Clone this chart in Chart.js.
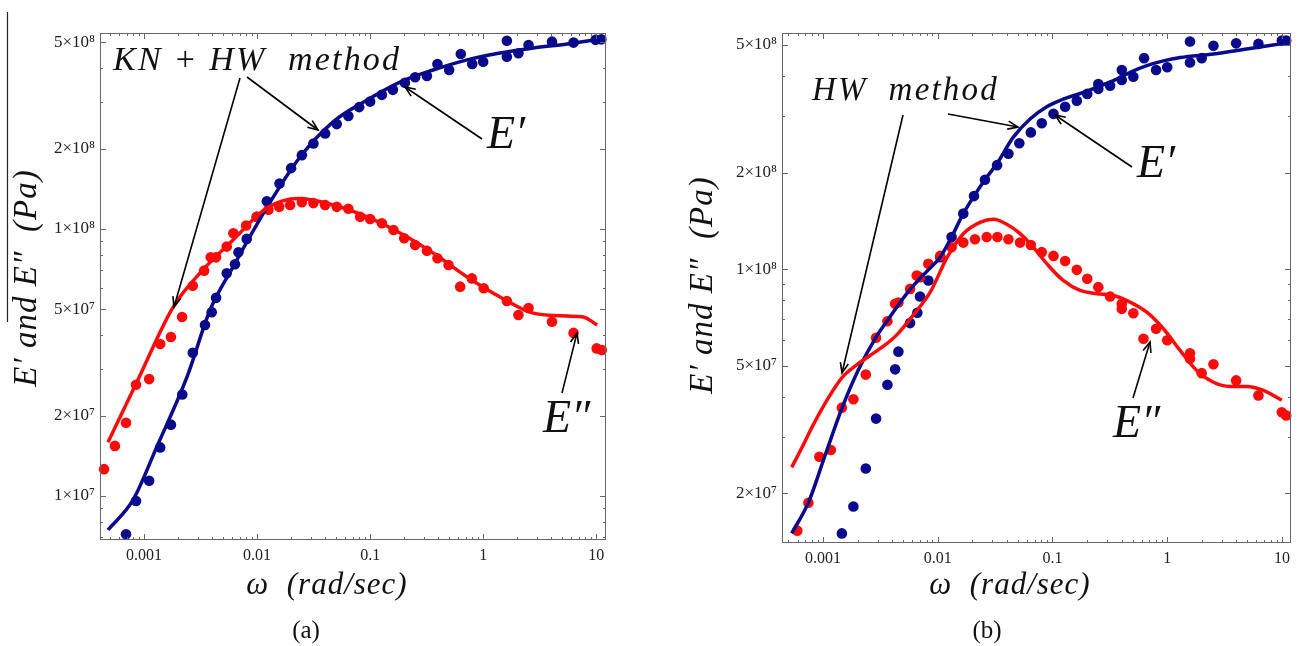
<!DOCTYPE html>
<html>
<head>
<meta charset="utf-8">
<title>E' and E'' vs frequency</title>
<script src="https://cdn.jsdelivr.net/npm/chart.js@4.4.1/dist/chart.umd.min.js"></script>
<style>
    body { margin: 0; background: #fff; }
    #wrap { position: relative; width: 1302px; height: 646px; overflow: hidden; }
    #chartA { position: absolute; left: 0; top: 0; }
    #chartB { position: absolute; left: 682px; top: 0; }
</style>
</head>
<body>
<div id="wrap">
    <canvas id="chartA" width="650" height="646"></canvas>
    <canvas id="chartB" width="620" height="646"></canvas>
</div>
<script>
// ---- tick labels ----
const xTickValues = [0.001, 0.01, 0.1, 1, 10];
const xTickLabels = ['0.001', '0.01', '0.1', '1', '10'];
const aYTickValues = [1e7, 2e7, 5e7, 1e8, 2e8, 5e8];
const aYTickLabels = ['1×10⁷', '2×10⁷', '5×10⁷', '1×10⁸', '2×10⁸', '5×10⁸'];
const bYTickValues = [2e7, 5e7, 1e8, 2e8, 5e8];
const bYTickLabels = ['2×10⁷', '5×10⁷', '1×10⁸', '2×10⁸', '5×10⁸'];

// ---- panel (a): KN + HW method ----
const aStorageW = [6.93e-4, 8.5e-4, 1.11e-3, 1.39e-3, 1.73e-3, 2.18e-3, 2.70e-3, 3.46e-3, 3.97e-3, 4.34e-3,
    5.39e-3, 6.38e-3, 6.84e-3, 8.1e-3, 9.94e-3, 1.22e-2, 1.58e-2, 2.0e-2, 2.49e-2, 3.15e-2,
    4.0e-2, 5.07e-2, 6.42e-2, 8.0e-2, 0.1, 0.127, 0.159, 0.203, 0.25, 0.318,
    0.394, 0.50, 0.634, 0.80, 1.0, 1.62, 1.62, 2.05, 2.52, 4.06, 6.30, 9.88, 11.1];
const aStorage = [7.19e6, 9.58e6, 1.14e7, 1.52e7, 1.85e7, 2.40e7, 3.44e7, 4.37e7, 4.88e7, 5.52e7,
    6.82e7, 7.38e7, 8.18e7, 9.18e7, 1.11e8, 1.27e8, 1.48e8, 1.69e8, 1.89e8, 2.09e8,
    2.28e8, 2.47e8, 2.65e8, 2.86e8, 3.0e8, 3.18e8, 3.32e8, 3.53e8, 3.70e8, 3.74e8,
    4.15e8, 3.94e8, 4.52e8, 4.15e8, 4.23e8, 5.07e8, 4.42e8, 4.55e8, 4.89e8, 5.03e8, 4.99e8, 5.11e8, 5.13e8];
const aLossW = [4.43e-4, 5.53e-4, 6.93e-4, 8.5e-4, 1.11e-3, 1.39e-3, 1.73e-3, 2.17e-3, 2.70e-3, 3.40e-3,
    3.89e-3, 4.34e-3, 5.39e-3, 6.17e-3, 8.0e-3, 9.94e-3, 1.26e-2, 1.57e-2, 1.96e-2, 2.49e-2,
    3.15e-2, 4.0e-2, 5.07e-2, 6.42e-2, 8.16e-2, 0.1, 0.127, 0.161, 0.2, 0.25,
    0.318, 0.394, 0.494, 0.626, 0.794, 1.01, 1.62, 2.05, 2.52, 4.06, 6.30, 10.1, 11.2];
const aLoss = [1.26e7, 1.54e7, 1.88e7, 2.61e7, 2.74e7, 3.71e7, 3.94e7, 4.68e7, 6.13e7, 6.98e7,
    7.83e7, 7.83e7, 8.59e7, 9.64e7, 1.03e8, 1.11e8, 1.18e8, 1.21e8, 1.23e8, 1.26e8,
    1.25e8, 1.23e8, 1.21e8, 1.19e8, 1.11e8, 1.09e8, 1.05e8, 9.91e7, 9.23e7, 8.71e7,
    8.29e7, 7.77e7, 7.33e7, 6.08e7, 6.53e7, 6.0e7, 5.37e7, 4.76e7, 5.06e7, 4.49e7, 4.08e7, 3.57e7, 3.52e7];
const aStorageFitW = [4.80e-4, 8.0e-4, 1.30e-3, 2.40e-3, 3.84e-3, 6.13e-3, 1.23e-2, 2.40e-2, 4.71e-2,
    9.4e-2, 0.184, 0.361, 0.722, 1.41, 2.77, 5.53, 10.8];
const aStorageFit = [7.46e6, 9.66e6, 1.53e7, 2.79e7, 4.97e7, 7.21e7, 1.21e8, 1.86e8, 2.52e8,
    3.04e8, 3.55e8, 3.94e8, 4.30e8, 4.56e8, 4.76e8, 4.93e8, 5.15e8];
const aLossFitW = [4.80e-4, 8.5e-4, 1.81e-3, 3.13e-3, 6.13e-3, 1.23e-2, 2.31e-2, 4.71e-2, 9.4e-2,
    0.184, 0.361, 0.722, 1.41, 2.77, 5.53, 7.67, 10.2];
const aLossFit = [1.59e7, 2.63e7, 5.10e7, 6.84e7, 9.10e7, 1.20e8, 1.30e8, 1.23e8, 1.11e8,
    9.66e7, 8.13e7, 6.61e7, 5.56e7, 4.84e7, 4.72e7, 4.68e7, 4.37e7];

// ---- panel (b): HW method ----
const bStorageW = [1.46e-3, 1.84e-3, 2.36e-3, 2.90e-3, 3.64e-3, 4.25e-3, 4.54e-3, 5.74e-3, 6.64e-3, 7.01e-3,
    8.28e-3, 1.05e-2, 1.32e-2, 1.67e-2, 2.07e-2, 2.58e-2, 3.29e-2, 4.13e-2, 5.14e-2, 6.48e-2,
    8.07e-2, 0.102, 0.129, 0.163, 0.201, 0.251, 0.251, 0.318, 0.402, 0.402,
    0.507, 0.629, 0.80, 1.0, 1.58, 1.58, 2.0, 2.53, 3.99, 6.24, 9.98, 10.9];
const bStorage = [1.50e7, 1.82e7, 2.39e7, 3.42e7, 4.36e7, 4.87e7, 5.53e7, 6.79e7, 7.31e7, 8.22e7,
    9.22e7, 1.09e8, 1.26e8, 1.49e8, 1.69e8, 1.90e8, 2.11e8, 2.29e8, 2.47e8, 2.67e8,
    2.85e8, 3.05e8, 3.21e8, 3.35e8, 3.52e8, 3.78e8, 3.65e8, 3.73e8, 4.18e8, 3.89e8,
    3.98e8, 4.55e8, 4.18e8, 4.26e8, 5.13e8, 4.41e8, 4.55e8, 4.97e8, 5.06e8, 5.04e8, 5.16e8, 5.16e8];
const bLossW = [5.97e-4, 7.45e-4, 9.29e-4, 1.17e-3, 1.46e-3, 1.84e-3, 2.36e-3, 2.90e-3, 3.64e-3, 4.25e-3,
    4.54e-3, 5.74e-3, 6.56e-3, 7.01e-3, 8.28e-3, 1.05e-2, 1.32e-2, 1.67e-2, 2.11e-2, 2.67e-2,
    3.31e-2, 4.13e-2, 5.22e-2, 6.48e-2, 8.07e-2, 0.102, 0.129, 0.163, 0.201, 0.251,
    0.318, 0.402, 0.402, 0.507, 0.621, 0.80, 1.0, 1.58, 1.58, 2.0, 2.53, 3.99, 6.24, 9.98, 10.9];
const bLoss = [1.53e7, 1.87e7, 2.60e7, 2.73e7, 3.70e7, 3.93e7, 4.69e7, 6.11e7, 6.88e7, 7.80e7,
    7.87e7, 8.68e7, 9.55e7, 9.44e7, 1.04e8, 1.10e8, 1.17e8, 1.21e8, 1.24e8, 1.26e8,
    1.26e8, 1.24e8, 1.21e8, 1.19e8, 1.13e8, 1.10e8, 1.06e8, 9.95e7, 9.33e7, 8.79e7,
    8.22e7, 7.80e7, 7.52e7, 7.29e7, 6.07e7, 6.52e7, 6.0e7, 5.47e7, 5.26e7, 4.74e7, 5.05e7, 4.50e7, 4.04e7, 3.58e7, 3.50e7];
const bStorageFitW = [5.33e-4, 7.45e-4, 1.04e-3, 1.46e-3, 2.02e-3, 2.88e-3, 3.64e-3, 5.74e-3, 8.40e-3, 1.05e-2,
    1.32e-2, 1.67e-2, 2.07e-2, 2.58e-2, 3.27e-2, 4.56e-2, 6.38e-2, 8.92e-2, 0.124, 0.174,
    0.243, 0.340, 0.475, 0.664, 0.927, 1.30, 2.53, 4.94, 9.8];
const bStorageFit = [1.50e7, 1.87e7, 2.62e7, 3.68e7, 4.83e7, 6.12e7, 6.92e7, 8.65e7, 1.0e8, 1.09e8,
    1.26e8, 1.49e8, 1.69e8, 1.90e8, 2.13e8, 2.58e8, 2.94e8, 3.21e8, 3.39e8, 3.53e8,
    3.69e8, 3.87e8, 4.11e8, 4.31e8, 4.46e8, 4.57e8, 4.69e8, 4.86e8, 5.04e8];
const bLossFitW = [5.33e-4, 6.69e-4, 8.18e-4, 1.08e-3, 1.47e-3, 1.98e-3, 2.57e-3, 3.34e-3, 4.42e-3, 6.09e-3,
    8.57e-3, 1.21e-2, 1.67e-2, 2.34e-2, 3.05e-2, 4.0e-2, 5.22e-2, 6.82e-2, 8.92e-2, 0.124,
    0.174, 0.243, 0.340, 0.475, 0.664, 0.927, 1.30, 1.81, 2.53, 3.53, 4.94, 6.90, 9.98];
const bLossFit = [2.41e7, 2.82e7, 3.26e7, 3.90e7, 4.60e7, 5.04e7, 5.38e7, 5.74e7, 6.25e7, 7.18e7,
    8.46e7, 1.09e8, 1.29e8, 1.40e8, 1.43e8, 1.38e8, 1.29e8, 1.17e8, 1.04e8, 9.22e7,
    8.58e7, 8.38e7, 8.28e7, 7.89e7, 7.34e7, 6.52e7, 5.57e7, 4.83e7, 4.44e7, 4.31e7, 4.31e7, 4.19e7, 3.90e7];

const SERIF = "'Liberation Serif', 'Times New Roman', 'DejaVu Serif', serif";
const RED = '#ff0a0a';
const BLUE = '#0a0a8c';
const INK = '#111';

function pts(xs, ys) {
    return xs.map((x, i) => ({ x: x, y: ys[i] }));
}

function drawArrow(ctx, x1, y1, x2, y2) {
    const a = Math.atan2(y2 - y1, x2 - x1);
    const len = 11, spread = 0.38;
    ctx.beginPath();
    ctx.moveTo(x1, y1);
    ctx.lineTo(x2, y2);
    ctx.stroke();
    ctx.beginPath();
    ctx.moveTo(x2 - len * Math.cos(a - spread), y2 - len * Math.sin(a - spread));
    ctx.lineTo(x2, y2);
    ctx.lineTo(x2 - len * Math.cos(a + spread), y2 - len * Math.sin(a + spread));
    ctx.stroke();
}

// frame, inward ticks on all four sides, titles and annotations
const decorPlugin = {
    id: 'decor',
    afterDraw(chart) {
        const ctx = chart.ctx;
        const area = chart.chartArea;
        const xs = chart.scales.x, ys = chart.scales.y;
        const deco = chart.options.plugins.decor;
        ctx.save();

        ctx.strokeStyle = '#666';
        ctx.lineWidth = 1;
        ctx.strokeRect(area.left + 0.5, area.top + 0.5, area.right - area.left - 1, area.bottom - area.top - 1);

        ctx.beginPath();
        for (let k = -4; k <= 1; k++) {
            for (let m = 1; m <= 9; m++) {
                const v = m * Math.pow(10, k);
                if (v < xs.min || v > xs.max) continue;
                const px = Math.round(xs.getPixelForValue(v)) + 0.5;
                const len = m === 1 ? 6 : 3;
                ctx.moveTo(px, area.bottom); ctx.lineTo(px, area.bottom - len);
                ctx.moveTo(px, area.top); ctx.lineTo(px, area.top + len);
            }
        }
        for (let k = 6; k <= 8; k++) {
            for (let m = 1; m <= 9; m++) {
                const v = m * Math.pow(10, k);
                if (v < ys.min || v > ys.max) continue;
                const py = Math.round(ys.getPixelForValue(v)) + 0.5;
                const len = (m === 1 || m === 2 || m === 5) ? 6 : 3;
                ctx.moveTo(area.left, py); ctx.lineTo(area.left + len, py);
                ctx.moveTo(area.right, py); ctx.lineTo(area.right - len, py);
            }
        }
        ctx.stroke();

        ctx.fillStyle = INK;
        ctx.textAlign = 'center';
        ctx.textBaseline = 'middle';

        // y title
        ctx.save();
        ctx.translate(deco.yTitle[0], deco.yTitle[1]);
        ctx.rotate(-Math.PI / 2);
        ctx.font = 'italic 33px ' + SERIF;
        ctx.letterSpacing = '1px';
        ctx.fillText('E′ and E″  (Pa)', 0, 0);
        ctx.restore();
        if (deco.overline) {
            ctx.strokeStyle = '#222';
            ctx.lineWidth = 1.2;
            ctx.beginPath();
            ctx.moveTo(deco.overline[0], deco.overline[1]);
            ctx.lineTo(deco.overline[0], deco.overline[2]);
            ctx.stroke();
        }

        // x title and panel caption
        ctx.font = 'italic 31px ' + SERIF;
        ctx.letterSpacing = '1px';
        ctx.fillText('ω  (rad/sec)', deco.xTitle[0], deco.xTitle[1]);
        ctx.letterSpacing = '0px';
        ctx.font = '25px ' + SERIF;
        ctx.fillText(deco.caption, deco.captionPos[0], deco.captionPos[1]);

        // annotations
        ctx.textAlign = 'left';
        ctx.textBaseline = 'alphabetic';
        deco.labels.forEach(l => {
            ctx.font = 'italic ' + l.size + 'px ' + SERIF;
            ctx.letterSpacing = (l.spacing || 0) + 'px';
            ctx.fillText(l.text, l.x, l.y);
        });
        ctx.letterSpacing = '0px';
        ctx.strokeStyle = '#000';
        ctx.lineWidth = 1.6;
        deco.arrows.forEach(a => drawArrow(ctx, a[0], a[1], a[2], a[3]));

        ctx.restore();
    }
};

function makeChart(id, cfg) {
    const lineDs = (data, color) => ({
        data: data, showLine: true, borderColor: color, borderWidth: 3.5,
        pointRadius: 0, cubicInterpolationMode: 'monotone', order: 1, clip: false
    });
    const dotDs = (data, color) => ({
        data: data, showLine: false, backgroundColor: color, borderWidth: 0,
        pointRadius: 5.3, order: 2, clip: false
    });
    return new Chart(document.getElementById(id), {
        type: 'scatter',
        data: {
            datasets: [
                dotDs(cfg.lossPts, RED),
                dotDs(cfg.storagePts, BLUE),
                lineDs(cfg.lossFit, RED),
                lineDs(cfg.storageFit, BLUE)
            ]
        },
        options: {
            responsive: false,
            devicePixelRatio: 1,
            animation: false,
            layout: { padding: cfg.padding },
            plugins: {
                legend: { display: false },
                tooltip: { enabled: false },
                decor: cfg.deco
            },
            scales: {
                x: {
                    type: 'logarithmic',
                    min: cfg.xRange[0], max: cfg.xRange[1],
                    grid: { display: false, drawTicks: false },
                    border: { display: false },
                    afterBuildTicks: s => { s.ticks = xTickValues.map(v => ({ value: v })); },
                    afterFit: s => { s.height = 60; },
                    ticks: {
                        autoSkip: false, maxRotation: 0, padding: 6, color: '#222',
                        font: { family: SERIF, size: 16 },
                        callback: v => xTickLabels[xTickValues.indexOf(v)]
                    }
                },
                y: {
                    type: 'logarithmic',
                    min: cfg.yRange[0], max: cfg.yRange[1],
                    grid: { display: false, drawTicks: false },
                    border: { display: false },
                    afterBuildTicks: s => { s.ticks = cfg.yTicks.map(v => ({ value: v })); },
                    afterFit: s => { s.width = 100; },
                    ticks: {
                        autoSkip: false, padding: 5, color: '#222',
                        font: { family: SERIF, size: 17 },
                        callback: v => cfg.yLabels[cfg.yTicks.indexOf(v)]
                    }
                }
            }
        },
        plugins: [decorPlugin]
    });
}

makeChart('chartA', {
    xRange: [4.08e-4, 12.2],
    yRange: [6.84e6, 5.42e8],
    yTicks: aYTickValues, yLabels: aYTickLabels,
    storagePts: pts(aStorageW, aStorage),
    lossPts: pts(aLossW, aLoss),
    storageFit: pts(aStorageFitW, aStorageFit),
    lossFit: pts(aLossFitW, aLossFit),
    padding: { left: 0, top: 33, right: 44, bottom: 46 },
    deco: {
        yTitle: [27, 278], overline: [7.5, 12, 322],
        xTitle: [327, 586], caption: '(a)', captionPos: [306, 631],
        labels: [
            { text: 'KN + HW  method', x: 113, y: 70, size: 34, spacing: 2.2 },
            { text: 'E′', x: 487, y: 148, size: 46 },
            { text: 'E″', x: 543, y: 432, size: 46 }
        ],
        arrows: [
            [240, 78, 174, 307],
            [247, 77, 318, 130],
            [482, 139, 405, 87],
            [562, 393, 577, 333]
        ]
    }
});

makeChart('chartB', {
    xRange: [4.39e-4, 12.0],
    yRange: [1.40e7, 5.45e8],
    yTicks: bYTickValues, yLabels: bYTickLabels,
    storagePts: pts(bStorageW, bStorage),
    lossPts: pts(bLossW, bLoss),
    storageFit: pts(bStorageFitW, bStorageFit),
    lossFit: pts(bLossFitW, bLossFit),
    padding: { left: 0, top: 33, right: 11, bottom: 43 },
    deco: {
        yTitle: [21, 285], overline: null,
        xTitle: [328, 586], caption: '(b)', captionPos: [305, 631],
        labels: [
            { text: 'HW  method', x: 130, y: 100, size: 33, spacing: 2.2 },
            { text: 'E′', x: 455, y: 177, size: 46 },
            { text: 'E″', x: 431, y: 437, size: 46 }
        ],
        arrows: [
            [221, 115, 160, 373],
            [266, 114, 336, 127],
            [450, 167, 373, 115],
            [451, 398, 468, 342]
        ]
    }
});
</script>
</body>
</html>
